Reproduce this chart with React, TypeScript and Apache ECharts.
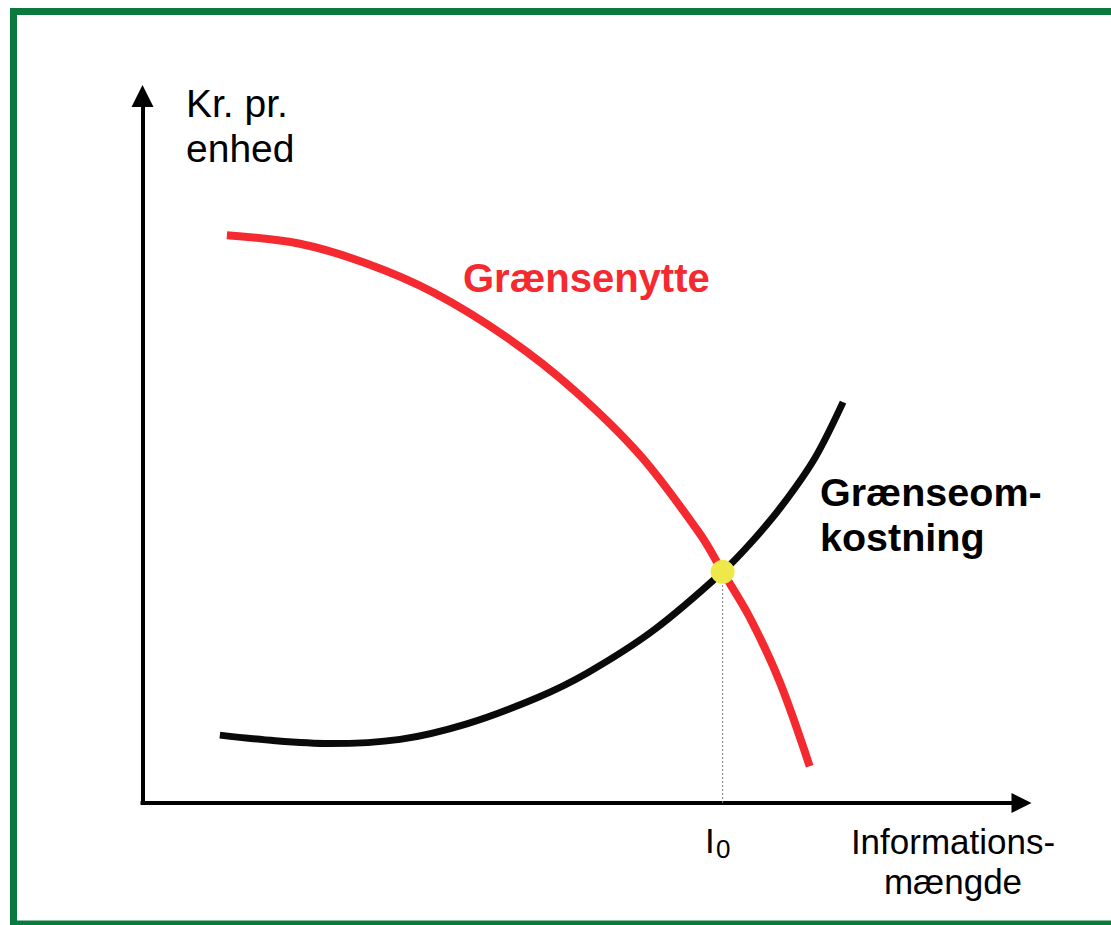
import React, { useEffect, useRef } from 'react';
import * as echarts from 'echarts';

// Grænsenytte (marginal benefit) curve (x: information amount, y: kr. per unit)
const benefitX = [9.6, 17.9, 25.5, 33.1, 41.5, 49.0, 56.6, 63.4, 66.0, 69.1, 72.5, 75.9];
const benefitY = [80.3, 79.1, 76.3, 72.2, 65.8, 58.5, 49.2, 38.1, 32.7, 26.2, 17.1, 5.2];

// Grænseomkostning (marginal cost) curve
const costX = [8.8, 15.1, 21.3, 29.3, 36.9, 44.9, 50.6, 58.1, 66.0, 69.5, 72.9, 76.5, 79.7];
const costY = [9.6, 8.8, 8.4, 9.0, 11.2, 14.9, 18.4, 24.4, 32.7, 37.2, 42.3, 48.8, 56.7];

// Equilibrium point I0
const equilibrium = [66.0, 32.7];

const yAxisTitle = 'Kr. pr.\nenhed';
const xAxisTitle = 'Informations-\nmængde';
const benefitLabel = 'Grænsenytte';
const costLabel = 'Grænseom-\nkostning';

const FONT = '"Liberation Sans", Arial, Helvetica, sans-serif';

export default function App() {
  const ref = useRef<HTMLDivElement>(null);

  useEffect(() => {
    if (!ref.current) return;
    const chart = echarts.init(ref.current, null, { renderer: 'svg' });

    const benefitData = benefitX.map((x, i) => [x, benefitY[i]]);
    const costData = costX.map((x, i) => [x, costY[i]]);

    const axisCommon = {
      type: 'value' as const,
      min: 0,
      max: 100,
      axisTick: { show: false },
      axisLabel: { show: false },
      splitLine: { show: false },
      axisLine: {
        show: true,
        onZero: false,
        lineStyle: { color: '#000', width: 4, cap: 'square' },
      },
    };

    chart.setOption({
      animation: false,
      backgroundColor: '#fff',
      grid: { left: 142.5, top: 96, width: 879, height: 707, outerBoundsMode: 'none' },
      xAxis: {
        ...axisCommon,
        axisLine: { ...axisCommon.axisLine, symbol: ['none', 'triangle'], symbolSize: [20, 20] },
      },
      yAxis: {
        ...axisCommon,
        axisLine: { ...axisCommon.axisLine, symbol: ['none', 'triangle'], symbolSize: [22, 22] },
      },
      series: [
        {
          type: 'line',
          name: 'I0',
          data: [[equilibrium[0], 0], [equilibrium[0], equilibrium[1]]],
          symbol: 'none',
          lineStyle: { color: '#808080', width: 1, type: [2, 2] },
          z: 1,
        },
        {
          type: 'line',
          name: benefitLabel,
          data: benefitData,
          smooth: 0.33,
          symbol: 'none',
          lineStyle: { color: '#f42a30', width: 8, cap: 'butt' },
          z: 2,
        },
        {
          type: 'line',
          name: 'Grænseomkostning',
          data: costData,
          smooth: 0.33,
          symbol: 'none',
          lineStyle: { color: '#0a0a0a', width: 7, cap: 'butt' },
          z: 3,
        },
        {
          type: 'scatter',
          name: 'Ligevægt',
          data: [equilibrium],
          symbol: 'circle',
          symbolSize: 24,
          itemStyle: { color: '#efe84a', opacity: 1 },
          z: 5,
        },
      ],
      graphic: [
        {
          type: 'rect',
          z: -1,
          shape: { x: 13.5, y: 11.5, width: 1120, height: 912.5 },
          style: { fill: 'none', stroke: '#0b7a3e', lineWidth: 7 },
        },
        {
          type: 'text',
          style: {
            text: yAxisTitle,
            x: 186,
            y: 126,
            fontSize: 39,
            fontFamily: FONT,
            lineHeight: 45,
            fill: '#000',
            align: 'left',
            verticalAlign: 'middle',
          },
        },
        {
          type: 'text',
          style: {
            text: benefitLabel,
            x: 463,
            y: 278,
            fontSize: 40,
            fontWeight: 'bold',
            fontFamily: FONT,
            fill: '#f42a30',
            align: 'left',
            verticalAlign: 'middle',
          },
        },
        {
          type: 'text',
          style: {
            text: costLabel,
            x: 820,
            y: 514,
            fontSize: 39.5,
            fontWeight: 'bold',
            fontFamily: FONT,
            lineHeight: 45,
            fill: '#000',
            align: 'left',
            verticalAlign: 'middle',
          },
        },
        {
          type: 'text',
          style: {
            text: xAxisTitle,
            x: 953,
            y: 861,
            fontSize: 35,
            fontFamily: FONT,
            lineHeight: 40,
            fill: '#000',
            align: 'center',
            verticalAlign: 'middle',
          },
        },
        {
          type: 'text',
          style: {
            text: 'I',
            x: 705,
            y: 840.4,
            fontSize: 35,
            fontFamily: FONT,
            fill: '#000',
            align: 'left',
            verticalAlign: 'middle',
          },
        },
        {
          type: 'text',
          style: {
            text: '0',
            x: 716,
            y: 848.6,
            fontSize: 26,
            fontFamily: FONT,
            fill: '#000',
            align: 'left',
            verticalAlign: 'middle',
          },
        },
      ],
    });

    return () => chart.dispose();
  }, []);

  return (
    <div
      ref={ref}
      style={{ position: 'absolute', left: 0, top: 0, width: 1111, height: 925 }}
    />
  );
}
